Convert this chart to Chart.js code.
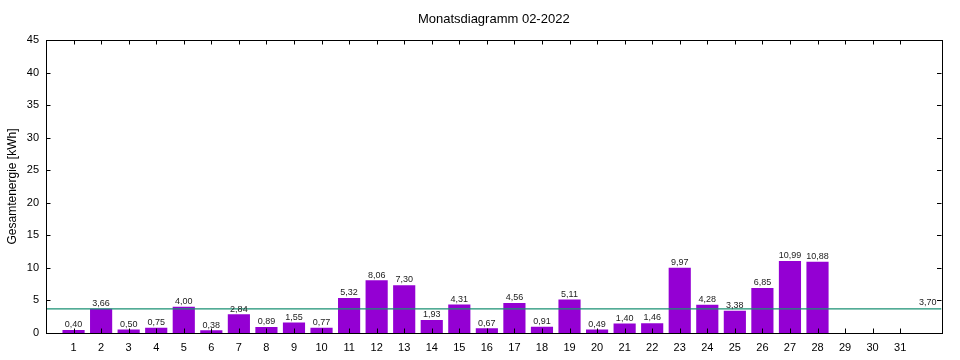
<!DOCTYPE html>
<html>
<head>
<meta charset="utf-8">
<script src="https://cdn.jsdelivr.net/npm/chart.js@4/dist/chart.umd.min.js"></script>
<style>
  html, body { margin: 0; padding: 0; background: #ffffff; }
  #wrap { width: 960px; height: 360px; }
</style>
</head>
<body>
<div id="wrap"><canvas id="chart" width="960" height="360"></canvas></div>
<script>
// Data
const dayLabels = [1, 2, 3, 4, 5, 6, 7, 8, 9, 10, 11, 12, 13, 14, 15, 16, 17, 18, 19, 20, 21, 22, 23, 24, 25, 26, 27, 28, 29, 30, 31];
const energyValues = [0.40, 3.66, 0.50, 0.75, 4.00, 0.38, 2.84, 0.89, 1.55, 0.77, 5.32, 8.06, 7.30, 1.93, 4.31, 0.67, 4.56, 0.91, 5.11, 0.49, 1.40, 1.46, 9.97, 4.28, 3.38, 6.85, 10.99, 10.88];
const averageValue = 3.70;
const yTicks = [0, 5, 10, 15, 20, 25, 30, 35, 40, 45];
const xMin = 0;
const xMax = 32.5;

const fontName = '"Liberation Sans", Arial, sans-serif';

// German number format
function fmt(v) {
  return v.toFixed(2).replace('.', ',');
}

// Frame, inward ticks and value labels (gnuplot look)
const gnuplotLook = {
  id: 'gnuplotLook',
  afterDatasetsDraw(chart) {
    const ctx = chart.ctx;
    const area = chart.chartArea;
    const xs = chart.scales.x;
    const ys = chart.scales.y;
    const tick = 4.5;

    ctx.save();
    ctx.strokeStyle = '#000000';
    ctx.lineWidth = 1;

    ctx.beginPath();
    xs.ticks.forEach(t => {
      const px = Math.round(xs.getPixelForValue(t.value)) + 0.5;
      ctx.moveTo(px, area.bottom);
      ctx.lineTo(px, area.bottom - tick);
      ctx.moveTo(px, area.top);
      ctx.lineTo(px, area.top + tick);
    });
    ys.ticks.forEach(t => {
      const py = Math.round(ys.getPixelForValue(t.value)) + 0.5;
      ctx.moveTo(area.left, py);
      ctx.lineTo(area.left + tick, py);
      ctx.moveTo(area.right, py);
      ctx.lineTo(area.right - tick, py);
    });
    ctx.stroke();

    ctx.strokeRect(Math.round(area.left) + 0.5, Math.round(area.top) + 0.5,
      Math.round(area.right - area.left), Math.round(area.bottom - area.top));

    // value labels above bars
    ctx.fillStyle = '#222222';
    ctx.font = '9px ' + fontName;
    ctx.textAlign = 'center';
    ctx.textBaseline = 'alphabetic';
    const meta = chart.getDatasetMeta(0);
    meta.data.forEach((bar, i) => {
      ctx.fillText(fmt(energyValues[i]), bar.x, bar.y - 3);
    });

    // average label on the right
    ctx.textAlign = 'right';
    ctx.fillText(fmt(averageValue), area.right - 5, ys.getPixelForValue(averageValue) - 4);
    ctx.restore();
  }
};

const ctx = document.getElementById('chart');

new Chart(ctx, {
  data: {
    datasets: [
      {
        type: 'bar',
        label: 'Gesamtenergie',
        data: energyValues.map((v, i) => ({ x: dayLabels[i], y: v })),
        backgroundColor: '#9400d3',
        borderWidth: 0,
        barThickness: 21.5,
        order: 2
      },
      {
        type: 'line',
        label: 'Durchschnitt',
        data: [{ x: xMin, y: averageValue }, { x: xMax, y: averageValue }],
        borderColor: '#1a9073',
        borderWidth: 1.3,
        pointRadius: 0,
        fill: false,
        order: 1
      }
    ]
  },
  options: {
    responsive: false,
    animation: false,
    layout: {
      padding: { left: 0, right: 18.5, top: 0, bottom: 0 }
    },
    plugins: {
      legend: { display: false },
      tooltip: { enabled: false },
      title: {
        display: true,
        text: 'Monatsdiagramm 02-2022',
        fullSize: false,
        color: '#000000',
        font: { family: fontName, size: 13, weight: 'normal', lineHeight: 1.2 },
        padding: { top: 12, bottom: 12.4 }
      }
    },
    scales: {
      x: {
        type: 'linear',
        min: xMin,
        max: xMax,
        offset: false,
        grid: { display: false, drawTicks: false },
        border: { display: false },
        afterBuildTicks: scale => {
          scale.ticks = dayLabels.map(d => ({ value: d }));
        },
        afterFit: scale => {
          scale.height = 27;
        },
        ticks: {
          autoSkip: false,
          maxRotation: 0,
          padding: 8,
          color: '#000000',
          font: { family: fontName, size: 11 },
          callback: value => String(value)
        }
      },
      y: {
        min: 0,
        max: 45,
        grid: { display: false, drawTicks: false },
        border: { display: false },
        afterBuildTicks: scale => {
          scale.ticks = yTicks.map(v => ({ value: v }));
        },
        afterFit: scale => {
          scale.width = 46;
        },
        ticks: {
          padding: 7,
          color: '#000000',
          font: { family: fontName, size: 11 }
        },
        title: {
          display: true,
          text: 'Gesamtenergie [kWh]',
          color: '#000000',
          font: { family: fontName, size: 12 },
          padding: { top: 5, bottom: 0 }
        }
      }
    }
  },
  plugins: [gnuplotLook]
});
</script>
</body>
</html>
